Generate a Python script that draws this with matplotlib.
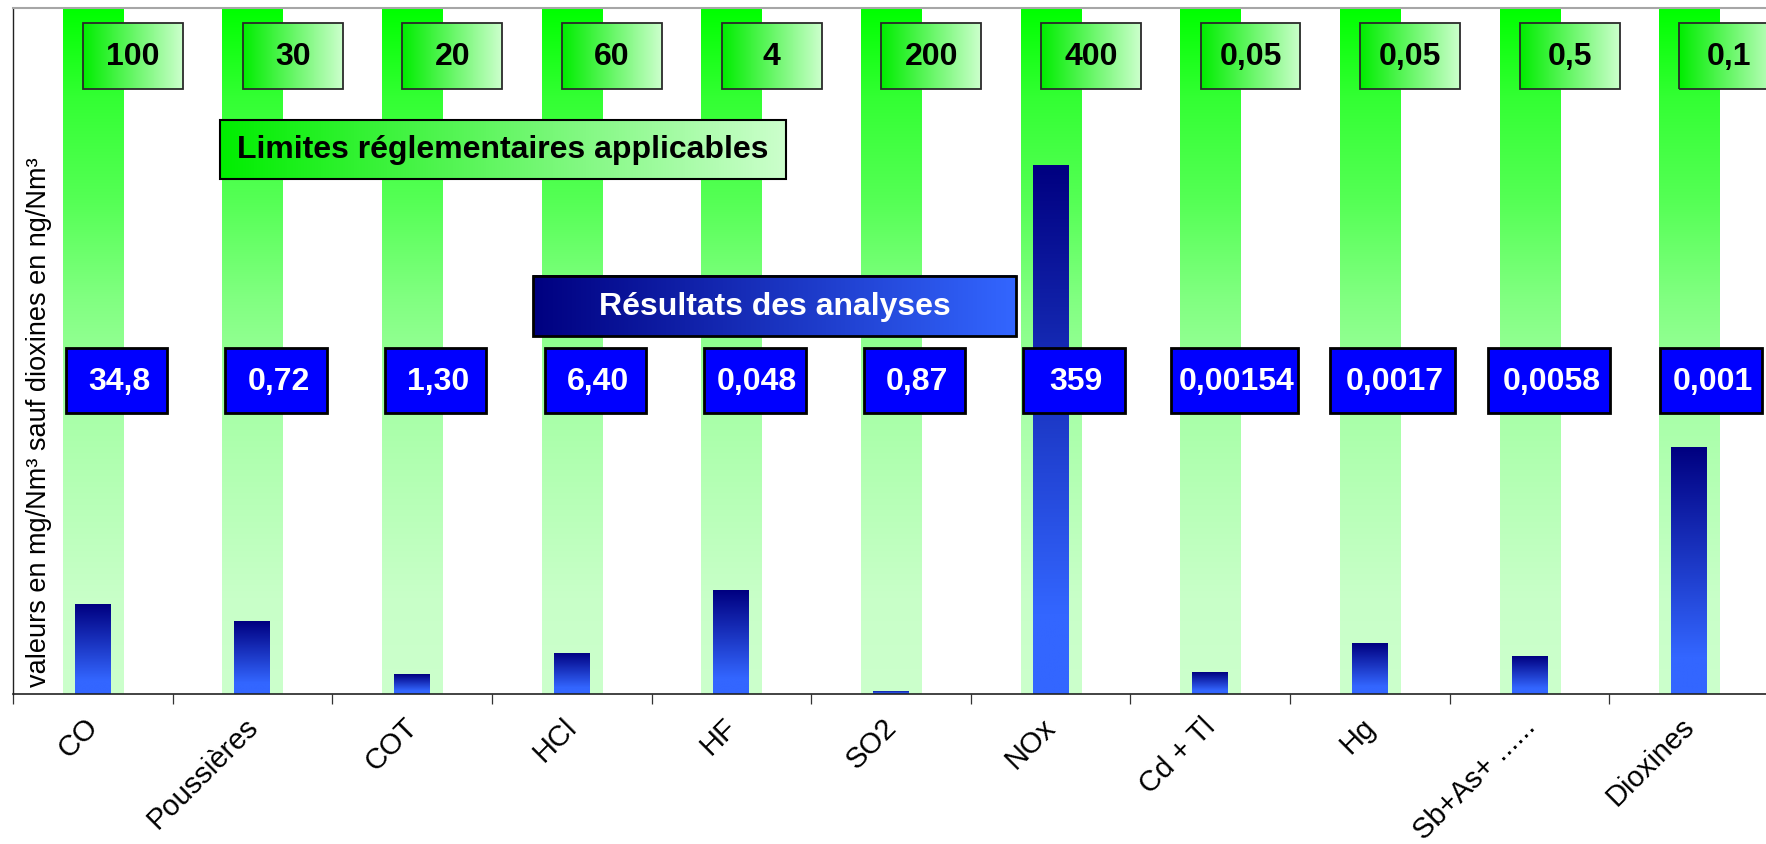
import numpy as np
import matplotlib
matplotlib.use('Agg')
import matplotlib.pyplot as plt
from matplotlib.colors import LinearSegmentedColormap
from matplotlib.patches import Rectangle
from matplotlib import font_manager
import matplotlib.transforms as mtransforms

# ---------------- data ----------------
categories = ['CO', 'Poussières', 'COT', 'HCl', 'HF', 'SO2', 'NOx',
              'Cd + Tl', 'Hg', 'Sb+As+ ......', 'Dioxines']
limit_labels = ['100', '30', '20', '60', '4', '200', '400',
                '0,05', '0,05', '0,5', '0,1']
result_labels = ['34,8', '0,72', '1,30', '6,40', '0,048', '0,87', '359',
                 '0,00154', '0,0017', '0,0058', '0,001']
# bar heights as drawn (percent of plot height)
limit_values = [100, 100, 100, 100, 100, 100, 100, 100, 100, 100, 100]
result_values = [13.1, 10.6, 2.9, 6.0, 15.1, 0.45, 77.1, 3.2, 7.4, 5.5, 36.0]
ylabel = 'valeurs en mg/Nm³ sauf dioxines en ng/Nm³'
limits_title = 'Limites réglementaires applicables'
results_title = 'Résultats des analyses'

# ---------------- layout / styles ----------------
W, H = 1766, 845
fig = plt.figure(figsize=(W / 100, H / 100), dpi=100)
ax = fig.add_axes([13 / W, 1 - 695 / H, (1769 - 13) / W, (695 - 9) / H])

names = {f.name for f in font_manager.fontManager.ttflist}
if 'Liberation Sans Narrow' in names:
    BOX_FONT, BOX_SIZE = 'Liberation Sans Narrow', 26
else:
    BOX_FONT, BOX_SIZE = 'Liberation Sans', 23

green_v = LinearSegmentedColormap.from_list('gv', [
    (0.0, '#00FF00'), (0.13, '#33FF33'), (0.28, '#55FF55'), (0.42, '#80FF80'),
    (0.59, '#A8FFA8'), (0.86, '#C8FFC8'), (1.0, '#CCFFCC')])
green_h = LinearSegmentedColormap.from_list('gh', ['#00EE00', '#CCFFCC'])
blue_v = LinearSegmentedColormap.from_list('bv', [
    (0.0, '#000080'), (0.85, '#3366FF'), (1.0, '#3366FF')])
blue_h = LinearSegmentedColormap.from_list('bh', ['#000080', '#3366FF'])

grad = np.linspace(0, 1, 256)


def fill_gradient(x0, x1, y0, y1, cmap, vertical, clip=None, z=1):
    # vertical: value 0 at the top ; horizontal: value 0 at the left
    img = grad.reshape(-1, 1) if vertical else grad.reshape(1, -1)
    im = ax.imshow(img, extent=[x0, x1, y0, y1], origin='upper',
                   aspect='auto', cmap=cmap, vmin=0, vmax=1, zorder=z,
                   interpolation='bilinear')
    if clip is not None:
        im.set_clip_path(clip)
    return im


x = np.arange(len(categories))

# green limit bars (full height)
gbars = ax.bar(x, limit_values, width=0.376, color='none', edgecolor='none', zorder=1)
for r in gbars:
    x0, y0 = r.get_x(), r.get_y()
    fill_gradient(x0, x0 + r.get_width(), y0, y0 + r.get_height(), green_v, True, clip=r, z=1)

# blue result bars
bbars = ax.bar(x, result_values, width=0.2254, color='none', edgecolor='none', zorder=2)
for r in bbars:
    x0, y0 = r.get_x(), r.get_y()
    fill_gradient(x0, x0 + r.get_width(), y0, y0 + r.get_height(), blue_v, True, clip=r, z=2)

# limit value boxes
gbox_dx = (-0.061, 0.565)
gbox_y = (88.2, 97.8)
for i, lab in enumerate(limit_labels):
    x0, x1 = i + gbox_dx[0], i + gbox_dx[1]
    rect = Rectangle((x0, gbox_y[0]), x1 - x0, gbox_y[1] - gbox_y[0],
                     facecolor='none', edgecolor='#2A2A2A', lw=1.3, zorder=6)
    ax.add_patch(rect)
    fill_gradient(x0, x1, gbox_y[0], gbox_y[1], green_h, False, z=5)
    ax.text((x0 + x1) / 2, sum(gbox_y) / 2, lab, ha='center', va='center',
            fontsize=BOX_SIZE, fontweight='bold', family=BOX_FONT,
            color='black', zorder=7)

# result value boxes
rbox_dx = [(-0.1675, 0.467), (-0.170, 0.465), (-0.170, 0.465), (-0.170, 0.465),
           (-0.170, 0.465), (-0.170, 0.465), (-0.173, 0.463), (-0.247, 0.551),
           (-0.250, 0.532), (-0.259, 0.506), (-0.182, 0.454)]
rbox_y = (40.9, 50.4)
for i, lab in enumerate(result_labels):
    x0, x1 = i + rbox_dx[i][0], i + rbox_dx[i][1]
    rect = Rectangle((x0, rbox_y[0]), x1 - x0, rbox_y[1] - rbox_y[0],
                     facecolor='#0000FF', edgecolor='black', lw=2.0, zorder=6)
    ax.add_patch(rect)
    ax.text((x0 + x1) / 2 + 0.015, sum(rbox_y) / 2, lab, ha='center', va='center',
            fontsize=BOX_SIZE, fontweight='bold', family=BOX_FONT,
            color='white', zorder=7)

# title boxes
lx, ly = (0.799, 4.340), (75.1, 83.7)
rect = Rectangle((lx[0], ly[0]), lx[1] - lx[0], ly[1] - ly[0], facecolor='none',
                 edgecolor='black', lw=1.5, zorder=6)
ax.add_patch(rect)
fill_gradient(lx[0], lx[1], ly[0], ly[1], green_h, False, z=5)
ax.text(sum(lx) / 2, sum(ly) / 2, limits_title, ha='center', va='center',
        fontsize=BOX_SIZE, fontweight='bold', family=BOX_FONT, color='black', zorder=7)

rx, ry = (2.758, 5.782), (52.2, 61.0)
rect = Rectangle((rx[0], ry[0]), rx[1] - rx[0], ry[1] - ry[0], facecolor='none',
                 edgecolor='black', lw=2.0, zorder=6)
ax.add_patch(rect)
fill_gradient(rx[0], rx[1], ry[0], ry[1], blue_h, False, z=5)
ax.text(sum(rx) / 2, sum(ry) / 2, results_title, ha='center', va='center',
        fontsize=BOX_SIZE, fontweight='bold', family=BOX_FONT, color='white', zorder=7)

# axes styling
ax.set_xlim(-0.5, len(categories) - 0.5)
ax.set_ylim(0, 100)
ax.set_yticks([])
ax.spines['right'].set_visible(False)
ax.spines['top'].set_color('#A6A6A6')
ax.spines['top'].set_linewidth(1.5)
ax.spines['left'].set_color('#222222')
ax.spines['left'].set_linewidth(1.0)
ax.spines['bottom'].set_color('#222222')
ax.spines['bottom'].set_linewidth(1.2)

ax.set_xticks(np.arange(-0.5, len(categories), 1.0))
ax.set_xticklabels([])
ax.tick_params(axis='x', which='major', length=7, width=0.9, color='#333333', direction='out')
ax.set_xticks(x, minor=True)
ax.set_xticklabels(categories, minor=True, rotation=45, ha='right', va='center',
                   rotation_mode='anchor', fontsize=21, family='Liberation Sans')
ax.tick_params(axis='x', which='minor', length=0, pad=20)
offset = mtransforms.ScaledTranslation(1 / 100, 0, fig.dpi_scale_trans)
for lab in ax.get_xticklabels(minor=True):
    lab.set_transform(lab.get_transform() + offset)

fig.text(39 / W, 1 - 422 / H, ylabel, rotation=90, ha='center', va='center',
         fontsize=19.5, family='Liberation Sans', color='black')

fig.savefig('out.png', dpi=100)
